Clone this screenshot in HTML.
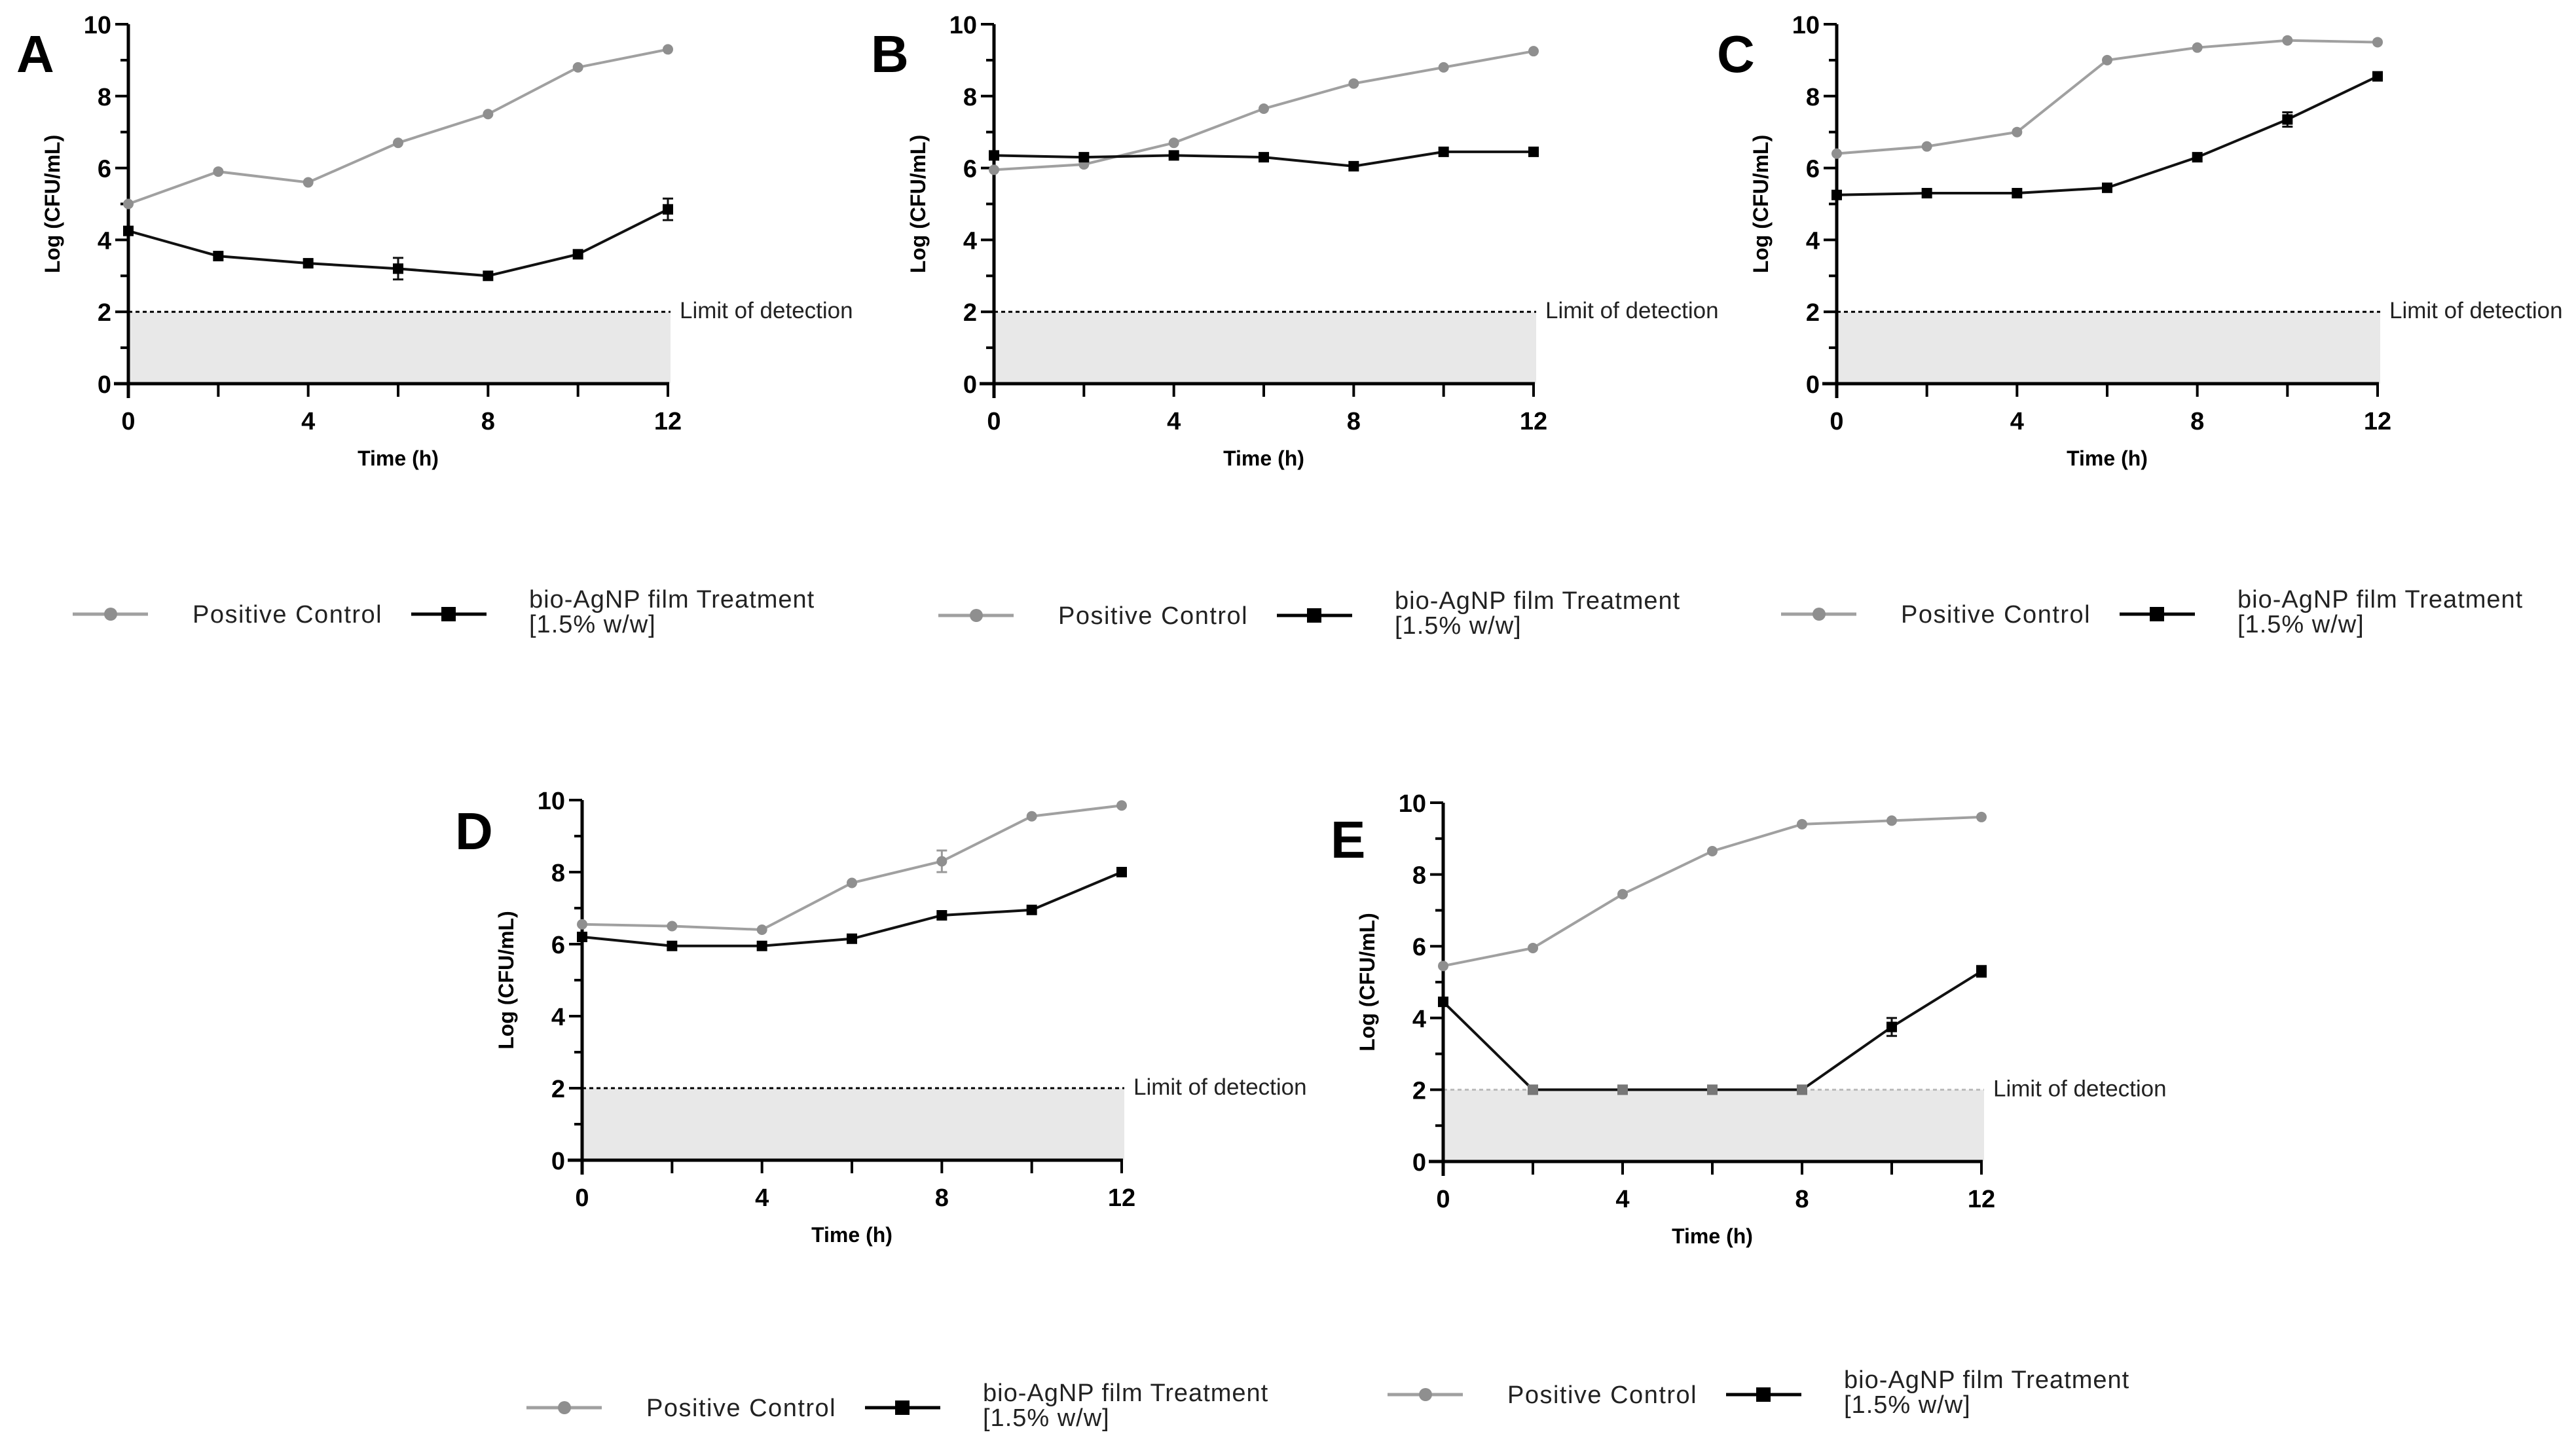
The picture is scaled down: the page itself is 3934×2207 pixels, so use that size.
<!DOCTYPE html>
<html><head><meta charset="utf-8"><style>
html,body{margin:0;padding:0;background:#fff;}
svg{display:block;}
text{font-family:"Liberation Sans",sans-serif;}
</style></head><body>
<svg id="fig" width="3934" height="2207" viewBox="0 0 3934 2207" xmlns="http://www.w3.org/2000/svg"></svg>
<script>
const times = [0,2,4,6,8,10,12];
const pcA = [5.0,5.9,5.6,6.7,7.5,8.8,9.3];
const trA = [4.25,3.55,3.35,3.2,3.0,3.6,4.85];
const trErrA = [0.05,0.05,0.1,0.3,0.05,0.05,0.3];
const pcB = [5.95,6.1,6.7,7.65,8.35,8.8,9.25];
const trB = [6.35,6.3,6.35,6.3,6.05,6.45,6.45];
const pcC = [6.4,6.6,7.0,9.0,9.35,9.55,9.5];
const trC = [5.25,5.3,5.3,5.45,6.3,7.35,8.55];
const trErrC = [0.05,0.05,0.05,0.05,0.05,0.2,0.05];
const pcD = [6.55,6.5,6.4,7.7,8.3,9.55,9.85];
const pcErrD = [0.05,0.05,0.05,0.05,0.3,0.05,0.05];
const trD = [6.2,5.95,5.95,6.15,6.8,6.95,8.0];
const pcE = [5.45,5.95,7.45,8.65,9.4,9.5,9.6];
const trE = [4.45,2.0,2.0,2.0,2.0,3.75,5.3];
const trErrE = [0.05,0,0,0,0,0.25,0.15];
const yTicks = [0,2,4,6,8,10];
const xTickLabels = [0,4,8,12];

const NS = "http://www.w3.org/2000/svg";
const svg = document.getElementById('fig');
function mk(tag, attrs, parent){
  const e = document.createElementNS(NS, tag);
  for (const k in attrs) e.setAttribute(k, attrs[k]);
  (parent||svg).appendChild(e);
  return e;
}
const panels = [
  {id:'a', letter:'A', x0:196, x1:1020, yT:37, yB:586, pc:pcA, tr:trA, trErr:trErrA, pcErr:null, lx:25, ly:110, legY:938},
  {id:'b', letter:'B', x0:1518, x1:2342, yT:37, yB:586, pc:pcB, tr:trB, trErr:null, pcErr:null, lx:1330, ly:110, legY:940},
  {id:'c', letter:'C', x0:2805, x1:3631, yT:37, yB:586, pc:pcC, tr:trC, trErr:trErrC, pcErr:null, lx:2622, ly:110, legY:938},
  {id:'d', letter:'D', x0:889, x1:1713, yT:1222, yB:1772, pc:pcD, tr:trD, trErr:null, pcErr:pcErrD, lx:695, ly:1297, legY:2150},
  {id:'e', letter:'E', x0:2204, x1:3026, yT:1226, yB:1774, pc:pcE, tr:trE, trErr:trErrE, pcErr:null, lx:2032, ly:1310, legY:2130}
];
panels.forEach(p=>{
  const g = mk('g', {});
  
  
  const xs = t => p.x0 + (t/12)*(p.x1-p.x0);
  const ys = v => p.yB - (v/10)*(p.yB-p.yT);
  const sh = mk('rect', {x:p.x0, y:ys(2), width:p.x1-p.x0+4, height:p.yB-ys(2), fill:'#e8e8e8'}, g);
  
  
  const lod = mk('line', {x1:p.x0, x2:p.x1+4, y1:ys(2), y2:ys(2), stroke: p.id==='e'?'#bbb':'#000', 'stroke-width':3, 'stroke-dasharray':'6,5'}, g);
  
  
  const lt = mk('text', {x:p.x1+18, y:ys(2)+10, 'font-size':35, fill:'#222'}, g);
  lt.textContent = 'Limit of detection';
  
  
  const ya = mk('line', {x1:p.x0, x2:p.x0, y1:p.yT, y2:p.yB+22, stroke:'#000', 'stroke-width':5}, g);
  
  
  const xa = mk('line', {x1:p.x0-22, x2:p.x1+2, y1:p.yB, y2:p.yB, stroke:'#000', 'stroke-width':5}, g);
  
  
  for (let v=0; v<=10; v++){
    const major = v%2===0;
    mk('line', {x1:p.x0-(major?20:12), x2:p.x0, y1:ys(v), y2:ys(v), stroke:'#000', 'stroke-width':4}, g);
  }
  yTicks.forEach(v=>{
    const t = mk('text', {x:p.x0-26, y:ys(v)+14, 'font-size':38, 'font-weight':'bold', 'text-anchor':'end'}, g);
    t.textContent = v;
    
    
  });
  times.forEach(t=>{
    mk('line', {x1:xs(t), x2:xs(t), y1:p.yB, y2:p.yB+20, stroke:'#000', 'stroke-width':4}, g);
  });
  xTickLabels.forEach(v=>{
    const t = mk('text', {x:xs(v), y:p.yB+70, 'font-size':38, 'font-weight':'bold', 'text-anchor':'middle'}, g);
    t.textContent = v;
    
    
  });
  const xt = mk('text', {x:(p.x0+p.x1)/2, y:p.yB+125, 'font-size':32, 'font-weight':'bold', 'text-anchor':'middle'}, g);
  xt.textContent = 'Time (h)';
  
  
  const cy = (p.yT+p.yB)/2;
  const yt = mk('text', {x:p.x0-105, y:cy, 'font-size':32, 'font-weight':'bold', 'text-anchor':'middle', transform:`rotate(-90 ${p.x0-105} ${cy})`}, g);
  yt.textContent = 'Log (CFU/mL)';
  
  
  const pl = mk('text', {x:p.lx, y:p.ly, 'font-size':80, 'font-weight':'bold'}, g);
  pl.textContent = p.letter;
  
  
  const pcLine = mk('polyline', {points: times.map((t,i)=>xs(t)+','+ys(p.pc[i])).join(' '), fill:'none', stroke:'#a0a0a0', 'stroke-width':4}, g);
  
  
  times.forEach((t,i)=>{
    if (p.pcErr && p.pcErr[i]>0.1){
      mk('line', {x1:xs(t), x2:xs(t), y1:ys(p.pc[i]+p.pcErr[i]), y2:ys(p.pc[i]-p.pcErr[i]), stroke:'#999', 'stroke-width':3}, g);
      mk('line', {x1:xs(t)-8, x2:xs(t)+8, y1:ys(p.pc[i]+p.pcErr[i]), y2:ys(p.pc[i]+p.pcErr[i]), stroke:'#999', 'stroke-width':3}, g);
      mk('line', {x1:xs(t)-8, x2:xs(t)+8, y1:ys(p.pc[i]-p.pcErr[i]), y2:ys(p.pc[i]-p.pcErr[i]), stroke:'#999', 'stroke-width':3}, g);
    }
    const c = mk('circle', {cx:xs(t), cy:ys(p.pc[i]), r:8, fill:'#8f8f8f'}, g);
    
    
  });
  const trLine = mk('polyline', {points: times.map((t,i)=>xs(t)+','+ys(p.tr[i])).join(' '), fill:'none', stroke:'#111', 'stroke-width':4}, g);
  
  
  times.forEach((t,i)=>{
    if (p.trErr && p.trErr[i]>0.1){
      const e1 = ys(p.tr[i]+p.trErr[i]), e2 = ys(p.tr[i]-p.trErr[i]);
      mk('line', {x1:xs(t), x2:xs(t), y1:e1, y2:e2, stroke:'#111', 'stroke-width':3}, g);
      mk('line', {x1:xs(t)-8, x2:xs(t)+8, y1:e1, y2:e1, stroke:'#111', 'stroke-width':3}, g);
      mk('line', {x1:xs(t)-8, x2:xs(t)+8, y1:e2, y2:e2, stroke:'#111', 'stroke-width':3}, g);
    }
    const atLod = p.id==='e' && p.tr[i]<=2.0;
    const s = mk('rect', {x:xs(t)-8, y:ys(p.tr[i])-8, width:16, height:16, fill: atLod?'#777':'#000'}, g);
    
    
  });
  const lg = mk('g', {}, g);
  
  
  const L = p.legY;
  mk('line', {x1:p.x0-85, x2:p.x0+30, y1:L, y2:L, stroke:'#a0a0a0', 'stroke-width':5}, lg);
  mk('circle', {cx:p.x0-27, cy:L, r:10, fill:'#8f8f8f'}, lg);
  const t1 = mk('text', {x:p.x0+98, y:L+13, 'font-size':38, 'letter-spacing':1.5, fill:'#222'}, lg);
  t1.textContent = 'Positive Control';
  
  
  mk('line', {x1:p.x0+432, x2:p.x0+547, y1:L, y2:L, stroke:'#000', 'stroke-width':5}, lg);
  mk('rect', {x:p.x0+478, y:L-11, width:22, height:22, fill:'#000'}, lg);
  const t2 = mk('text', {x:p.x0+612, y:L-10, 'font-size':38, 'letter-spacing':1, fill:'#222'}, lg);
  t2.textContent = 'bio-AgNP film Treatment';
  
  
  const t3 = mk('text', {x:p.x0+612, y:L+28, 'font-size':38, 'letter-spacing':1, fill:'#222'}, lg);
  t3.textContent = '[1.5% w/w]';
  
  
});
</script>
</body></html>
